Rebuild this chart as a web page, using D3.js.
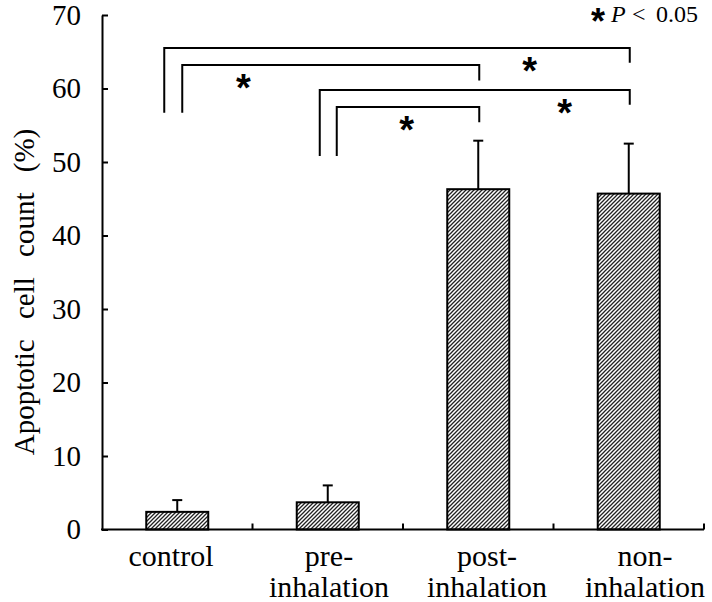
<!DOCTYPE html>
<html>
<head>
<meta charset="utf-8">
<script src="https://cdn.jsdelivr.net/npm/d3@7"></script>
<style>
  html, body { margin: 0; padding: 0; background: #fff; }
  svg { display: block; font-family: "Liberation Serif", "Times New Roman", serif; }
</style>
</head>
<body>
<svg id="chart" width="712" height="602"></svg>
<script>
// ---- data ----
const categories = ["control", "pre-inhalation", "post-inhalation", "non-inhalation"];
const labelLines = [["control"], ["pre-", "inhalation"], ["post-", "inhalation"], ["non-", "inhalation"]];
const means = [2.4, 3.7, 46.3, 45.7];
const errors = [1.6, 2.3, 6.6, 6.8];
const yTicks = [0, 10, 20, 30, 40, 50, 60, 70];
const yLabel = "Apoptotic cell count (%)";
// significance brackets: from, to, top level, left-leg end, right-leg end (in % units)
const bracketFrom = ["control", "control", "pre-inhalation", "pre-inhalation"];
const bracketTo = ["non-inhalation", "post-inhalation", "non-inhalation", "post-inhalation"];
const bracketTop = [65.5, 63.2, 59.8, 57.5];
const bracketLeftEnd = [56.7, 56.7, 50.8, 50.8];
const bracketRightEnd = [63.5, 61.1, 57.8, 55.4];

// ---- layout ----
const svg = d3.select("#chart");
const mLeft = 102, mRight = 704, mTop = 15, mBottom = 529.5;

const x = d3.scaleBand().domain(categories).range([mLeft, mRight])
  .paddingInner(0.588).paddingOuter(0.294);
const y = d3.scaleLinear().domain([0, 70]).range([mBottom, mTop]);
const labelX = d3.scalePoint().domain(categories).range([171, 645]);

// hatch pattern
const defs = svg.append("defs");
const pat = defs.append("pattern").attr("id", "hatch")
  .attr("patternUnits", "userSpaceOnUse").attr("width", 4).attr("height", 4);
pat.append("rect").attr("width", 4).attr("height", 4).attr("fill", "#fff");
pat.append("path").attr("d", "M0,4 L4,0 M-1,1 L1,-1 M3,5 L5,3")
  .attr("stroke", "#222").attr("stroke-width", 1.3);

// bars
svg.append("g").selectAll("rect").data(categories).join("rect")
  .attr("x", d => x(d))
  .attr("y", (d, i) => y(means[i]))
  .attr("width", x.bandwidth())
  .attr("height", (d, i) => y(0) - y(means[i]))
  .attr("fill", "url(#hatch)")
  .attr("stroke", "#000").attr("stroke-width", 2);

// error bars
const eg = svg.append("g").attr("stroke", "#000").attr("stroke-width", 2);
categories.forEach((c, i) => {
  const cx = x(c) + x.bandwidth() / 2;
  eg.append("line").attr("x1", cx).attr("x2", cx)
    .attr("y1", y(means[i])).attr("y2", y(means[i] + errors[i]));
  eg.append("line").attr("x1", cx - 5).attr("x2", cx + 5)
    .attr("y1", y(means[i] + errors[i])).attr("y2", y(means[i] + errors[i]));
});

// y axis
const yAxis = d3.axisLeft(y).tickValues(yTicks).tickSize(-6).tickSizeOuter(0).tickPadding(21);
const yg = svg.append("g").attr("transform", `translate(${mLeft},0)`).call(yAxis);
yg.select(".domain").attr("stroke-width", 2);
yg.selectAll(".tick line").attr("stroke-width", 2);
yg.selectAll(".tick text").attr("font-size", 29).attr("font-family", "Liberation Serif").attr("fill", "#000");

// x axis line and boundary ticks
const xg = svg.append("g").attr("stroke", "#000").attr("stroke-width", 2);
xg.append("line").attr("x1", mLeft - 1).attr("x2", mRight).attr("y1", mBottom).attr("y2", mBottom);
d3.range(1, categories.length + 1).forEach(i => {
  const bx = mLeft + i * x.step();
  xg.append("line").attr("x1", bx).attr("x2", bx).attr("y1", mBottom).attr("y2", mBottom - 6);
});

// category labels
const lg = svg.append("g").attr("font-size", 30).attr("text-anchor", "middle").attr("fill", "#000");
categories.forEach((c, i) => {
  labelLines[i].forEach((t, j) => {
    lg.append("text").attr("x", labelX(c)).attr("y", 566 + j * 31).text(t);
  });
});

// y label
svg.append("text")
  .attr("transform", `translate(34,292) rotate(-90)`)
  .attr("text-anchor", "middle").attr("font-size", 29)
  .style("word-spacing", "13px")
  .text(yLabel);

// brackets
const legOffsetLeft = { "control": [-13, 5], "pre-inhalation": [-8, 9] };
const starFrac = [0.785, 0.206, 0.79, 0.49];
const bg = svg.append("g");
bracketFrom.forEach((f, i) => {
  const outer = (i === 0 || i === 2);
  const x1 = x(f) + x.bandwidth() / 2 + legOffsetLeft[f][outer ? 0 : 1];
  const x2 = x(bracketTo[i]) + x.bandwidth() / 2 + 1;
  const yt = y(bracketTop[i]);
  bg.append("path")
    .attr("d", `M${x1},${y(bracketLeftEnd[i])} V${yt} H${x2} V${y(bracketRightEnd[i])}`)
    .attr("fill", "none").attr("stroke", "#000").attr("stroke-width", 2);
  const sx = x1 + (x2 - x1) * starFrac[i];
  bg.append("text").attr("x", sx).attr("y", yt + 36)
    .attr("text-anchor", "middle").attr("font-size", 38)
    .attr("font-family", "Liberation Sans").attr("font-weight", "bold")
    .text("*");
});

// legend
svg.append("text").attr("x", 598).attr("y", 34).attr("text-anchor", "middle")
  .attr("font-family", "Liberation Sans").attr("font-weight", "bold")
  .attr("font-size", 36).text("*");
const leg = svg.append("text").attr("y", 22).attr("font-size", 24);
leg.append("tspan").attr("x", 611).attr("font-style", "italic").text("P");
leg.append("tspan").attr("x", 632).text("<");
leg.append("tspan").attr("x", 656).text("0.05");
</script>
</body>
</html>
